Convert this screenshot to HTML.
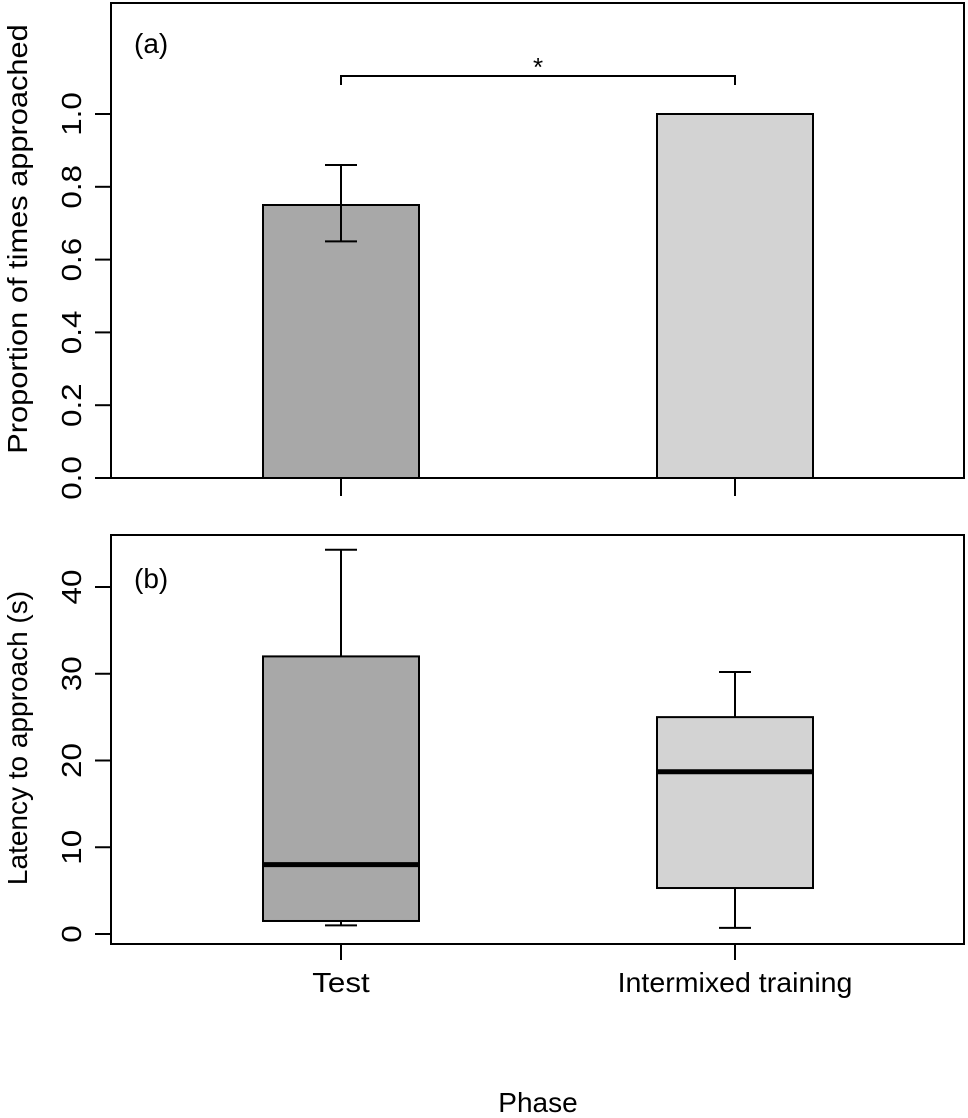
<!DOCTYPE html>
<html><head><meta charset="utf-8"><style>
html,body{margin:0;padding:0;background:#fff}
svg{display:block;font-family:"Liberation Sans",Arial,sans-serif}
</style></head><body>
<svg id="chart" width="968" height="1118" viewBox="0 0 968 1118" xmlns="http://www.w3.org/2000/svg"></svg>
<script>
const categories = ["Test", "Intermixed training"];
const propValues = [0.75, 1.0];
const propErrLow = [0.65, null];
const propErrHigh = [0.86, null];
const propTicks = [0, 0.2, 0.4, 0.6, 0.8, 1.0];
const propTickLabels = ["0.0", "0.2", "0.4", "0.6", "0.8", "1.0"];
const boxMin = [1.0, 0.7];
const boxQ1 = [1.5, 5.3];
const boxMedian = [8.0, 18.7];
const boxQ3 = [32.0, 25.0];
const boxMax = [44.3, 30.2];
const latTicks = [0, 10, 20, 30, 40];
const latTickLabels = ["0", "10", "20", "30", "40"];
const fills = ["#a8a8a8", "#d3d3d3"];

const svg = document.getElementById('chart');
const NS = "http://www.w3.org/2000/svg";
function mk(tag, attrs, parent){
  const e = document.createElementNS(NS, tag);
  for (const k in attrs) e.setAttribute(k, attrs[k]);
  (parent || svg).appendChild(e);
  return e;
}
const xC = i => 341 + i * 394;
const halfW = 78;
const yA = v => 478 - v * 364;
const yB = v => 934 - v * 8.675;

// Panel A
const gA = mk('g', {});


let fr = mk('rect', {x:111, y:3, width:853, height:475, fill:'none', stroke:'#000', 'stroke-width':2}, gA);


propTicks.forEach((t, i) => {
  const l = mk('line', {x1:95, x2:111, y1:yA(t), y2:yA(t), stroke:'#000', 'stroke-width':2}, gA);
  
  
  const tx = mk('text', {x:0, y:0, 'font-size':28, 'text-anchor':'middle', transform:`translate(81,${yA(t)}) rotate(-90) scale(1.12,1)`}, gA);
  tx.textContent = propTickLabels[i];
  
  
});
categories.forEach((c, i) => {
  const r = mk('rect', {x:xC(i)-halfW, y:yA(propValues[i]), width:2*halfW, height:yA(0)-yA(propValues[i]), fill:fills[i], stroke:'#000', 'stroke-width':2}, gA);
  
  
  const tk = mk('line', {x1:xC(i), x2:xC(i), y1:478, y2:496, stroke:'#000', 'stroke-width':2}, gA);
  
  
  if (propErrLow[i] !== null) {
    const eb = mk('path', {d:`M${xC(i)},${yA(propErrLow[i])}V${yA(propErrHigh[i])}M${xC(i)-16},${yA(propErrLow[i])}H${xC(i)+16}M${xC(i)-16},${yA(propErrHigh[i])}H${xC(i)+16}`, stroke:'#000', 'stroke-width':2, fill:'none'}, gA);
    
    
  }
});
const br = mk('path', {d:`M${xC(0)},85V76H${xC(1)}V85`, stroke:'#000', 'stroke-width':2, fill:'none'}, gA);


let st = mk('text', {x:(xC(0)+xC(1))/2, y:76, 'font-size':26, 'text-anchor':'middle'}, gA);
st.textContent = '*';


let la = mk('text', {x:134, y:53, 'font-size':28}, gA);
la.textContent = '(a)';


let ya = mk('text', {x:0, y:0, 'font-size':28, 'text-anchor':'middle', transform:'translate(27,239) rotate(-90) scale(1.1,1)'}, gA);
ya.textContent = 'Proportion of times approached';



// Panel B
const gB = mk('g', {});


fr = mk('rect', {x:111, y:535, width:853, height:409, fill:'none', stroke:'#000', 'stroke-width':2}, gB);


latTicks.forEach((t, i) => {
  const l = mk('line', {x1:95, x2:111, y1:yB(t), y2:yB(t), stroke:'#000', 'stroke-width':2}, gB);
  
  
  const tx = mk('text', {x:0, y:0, 'font-size':28, 'text-anchor':'middle', transform:`translate(81,${yB(t)}) rotate(-90) scale(1.12,1)`}, gB);
  tx.textContent = latTickLabels[i];
  
  
});
categories.forEach((c, i) => {
  const x = xC(i);
  const w = mk('path', {d:`M${x},${yB(boxMin[i])}V${yB(boxMax[i])}M${x-16},${yB(boxMin[i])}H${x+16}M${x-16},${yB(boxMax[i])}H${x+16}`, stroke:'#000', 'stroke-width':2, fill:'none'}, gB);
  
  
  const r = mk('rect', {x:x-halfW, y:yB(boxQ3[i]), width:2*halfW, height:yB(boxQ1[i])-yB(boxQ3[i]), fill:fills[i], stroke:'#000', 'stroke-width':2}, gB);
  
  
  const m = mk('line', {x1:x-halfW, x2:x+halfW, y1:yB(boxMedian[i]), y2:yB(boxMedian[i]), stroke:'#000', 'stroke-width':5}, gB);
  
  
  const tk = mk('line', {x1:x, x2:x, y1:944, y2:960, stroke:'#000', 'stroke-width':2}, gB);
  
  
  const tl = mk('text', {x:0, y:0, 'font-size':28, 'text-anchor':'middle', transform:`translate(${x},992) scale(${i ? 1.02 : 1.12},1)`}, gB);
  tl.textContent = c;
  
  
});
let lb = mk('text', {x:134, y:588, 'font-size':28}, gB);
lb.textContent = '(b)';


let yb = mk('text', {x:0, y:0, 'font-size':28, 'text-anchor':'middle', transform:'translate(27,738) rotate(-90)'}, gB);
yb.textContent = 'Latency to approach (s)';


let xt = mk('text', {x:538, y:1112, 'font-size':28, 'text-anchor':'middle'}, gB);
xt.textContent = 'Phase';


</script>
</body></html>
